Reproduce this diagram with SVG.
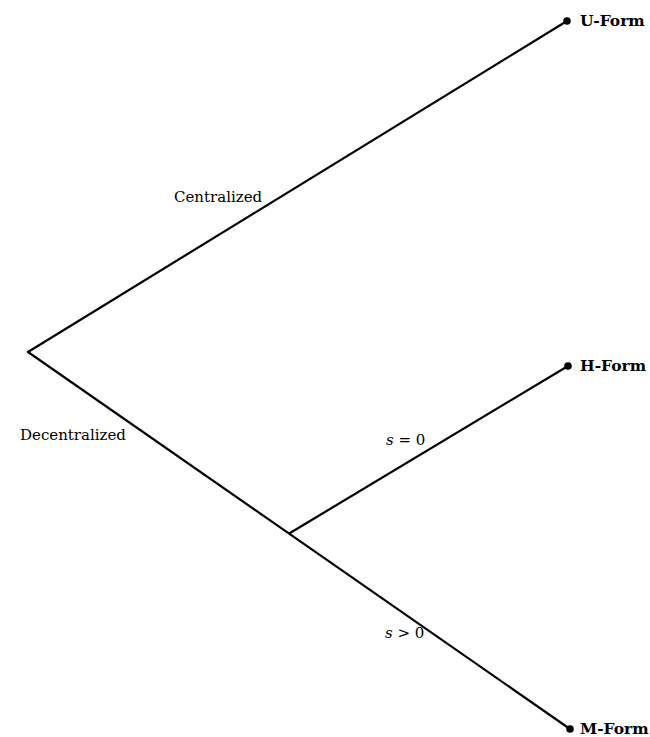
<svg xmlns="http://www.w3.org/2000/svg" width="650" height="737" viewBox="0 0 650 737">
<style>
.edge{stroke:#000;stroke-width:2.2;fill:none;stroke-linecap:round}
.dot{fill:#000}
.lab{font-family:"DejaVu Serif","Liberation Serif",serif;font-size:15px;fill:#000}
.leaf{font-family:"DejaVu Serif","Liberation Serif",serif;font-size:15.5px;font-weight:bold;fill:#000}
.it{font-style:italic}
</style>
<rect width="650" height="737" fill="#fff"/>
<g id="connectors">
<line class="edge" x1="28" y1="352" x2="567" y2="21"/>
<line class="edge" x1="28" y1="352" x2="570" y2="729"/>
<line class="edge" x1="290" y1="533" x2="568" y2="366"/>
<text class="lab" x="174" y="202">Centralized</text>
<text class="lab" x="20" y="440">Decentralized</text>
<text class="lab" x="386" y="445"><tspan class="it">s</tspan> = 0</text>
<text class="lab" x="385" y="638"><tspan class="it">s</tspan> &gt; 0</text>
</g>
<g id="u-form"><circle class="dot" cx="567" cy="21" r="3.8"/><text class="leaf" x="580" y="26">U-Form</text></g>
<g id="h-form"><circle class="dot" cx="568" cy="366" r="3.8"/><text class="leaf" x="580" y="371">H-Form</text></g>
<g id="m-form"><circle class="dot" cx="570" cy="729" r="3.8"/><text class="leaf" x="580" y="734">M-Form</text></g>
</svg>
